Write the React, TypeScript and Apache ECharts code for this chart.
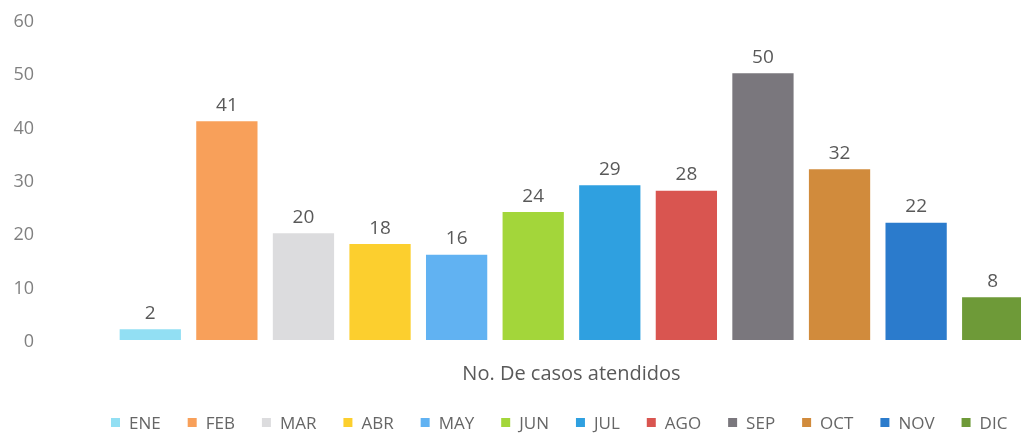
import React, { useEffect, useRef } from "react";
import * as echarts from "echarts";

const categories = ["ENE", "FEB", "MAR", "ABR", "MAY", "JUN", "JUL", "AGO", "SEP", "OCT", "NOV", "DIC"];
const values = [2, 41, 20, 18, 16, 24, 29, 28, 50, 32, 22, 8];
const colors = [
  "#92dff3", "#f8a05a", "#dcdcde", "#fccf2e", "#61b2f2", "#a3d63a",
  "#2fa0e0", "#d95550", "#7a777d", "#d18b3c", "#2b7bcc", "#6e9a38",
];
const yTicks = { min: 0, max: 60, interval: 10 };
const axisTitle = "No. De casos atendidos";

const FONT = "'Open Sans', 'Noto Sans', sans-serif";

export default function App() {
  const ref = useRef<HTMLDivElement>(null);
  useEffect(() => {
    if (!ref.current) return;
    const chart = echarts.init(ref.current, undefined, { renderer: "svg" });
    const series = categories.map((name, i) => ({
      name,
      type: "bar",
      stack: "total",
      barCategoryGap: "20%",
      itemStyle: { color: colors[i] },
      label: {
        show: true,
        position: "top",
        color: "#595959",
        fontSize: 19,
        fontFamily: FONT,
        distance: 8,
      },
      data: categories.map((_, j) => (j === i ? values[i] : "-")),
    }));
    chart.setOption({
      animation: false,
      textStyle: { fontFamily: FONT },
      grid: { left: 104, right: 0, top: 12, bottom: 96, containLabel: false },
      legend: {
        data: categories,
        bottom: 0,
        left: 98,
        icon: "rect",
        itemWidth: 9,
        itemHeight: 9,
        itemGap: 27,
        textStyle: { color: "#666666", fontSize: 17, fontFamily: FONT, padding: [0, 0, 0, 4] },
      },
      xAxis: {
        type: "category",
        data: categories,
        name: axisTitle,
        nameLocation: "middle",
        nameGap: 22,
        nameTextStyle: { color: "#595959", fontSize: 20, fontFamily: FONT },
        axisLine: { show: false },
        axisTick: { show: false },
        axisLabel: { show: false },
      },
      yAxis: {
        type: "value",
        min: yTicks.min,
        max: yTicks.max,
        interval: yTicks.interval,
        splitLine: { show: false },
        axisLine: { show: false },
        axisTick: { show: false },
        axisLabel: { color: "#808080", fontSize: 18, margin: 78, fontFamily: FONT },
      },
      series,
    });
    return () => chart.dispose();
  }, []);
  return (
    <div style={{ position: "fixed", left: 8, top: 8, width: 1013, height: 428, overflow: "hidden" }}>
      <div ref={ref} style={{ width: 1023, height: 428 }} />
    </div>
  );
}
